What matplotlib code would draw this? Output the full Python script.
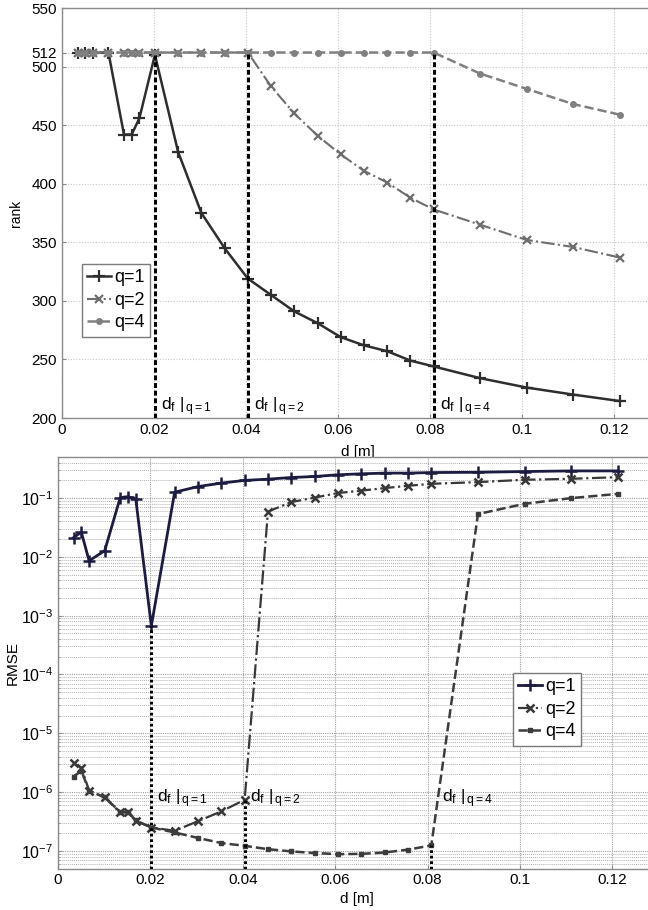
import matplotlib
matplotlib.use("Agg")
import matplotlib.pyplot as plt
import numpy as np
from matplotlib.ticker import FixedLocator, NullFormatter, LogFormatterSciNotation

plt.rcParams['font.family'] = ['Liberation Sans', 'DejaVu Sans']
plt.rcParams['mathtext.fontset'] = 'custom'
plt.rcParams['mathtext.rm'] = 'Liberation Sans'
plt.rcParams['mathtext.it'] = 'Liberation Sans'
plt.rcParams['mathtext.default'] = 'regular'

# ---- data ----
d = [0.00337, 0.00505, 0.00673, 0.0101, 0.01347, 0.01515, 0.01683, 0.0202,
     0.02525, 0.0303, 0.03535, 0.0404, 0.04545, 0.0505, 0.05555, 0.0606,
     0.06565, 0.0707, 0.07575, 0.0808, 0.0909, 0.101, 0.1111, 0.1212]

rank_q1 = [512, 512, 512, 512, 442, 442, 456, 510, 427, 375, 345, 319,
           305, 291, 281, 269, 262, 257, 249, 244, 234, 226, 220, 214.5]
rank_q2 = [512, 512, 512, 512, 512, 512, 512, 512, 512, 512, 512, 512,
           483, 460, 441, 425, 411, 401, 388, 378, 365, 352, 346, 337]
rank_q4 = [512, 512, 512, 512, 512, 512, 512, 512, 512, 512, 512, 512,
           512, 512, 512, 512, 512, 512, 512, 512, 494, 481, 468, 459]

rmse_q1 = [0.0213, 0.0264, 0.0086, 0.0127, 0.102, 0.106, 0.097, 6.7e-4,
           0.126, 0.157, 0.18, 0.20, 0.21, 0.224, 0.233, 0.249,
           0.259, 0.266, 0.266, 0.272, 0.275, 0.283, 0.29, 0.29]
rmse_q2 = [3.1e-6, 2.6e-6, 1.06e-6, 8.1e-7, 4.5e-7, 4.5e-7, 3.25e-7, 2.5e-7,
           2.2e-7, 3.2e-7, 4.7e-7, 7.4e-7, 0.059, 0.0855, 0.102, 0.122,
           0.134, 0.148, 0.162, 0.175, 0.187, 0.205, 0.213, 0.227]
rmse_q4 = [1.84e-6, 2.3e-6, 1.06e-6, 8.1e-7, 4.6e-7, 4.6e-7, 3.3e-7, 2.5e-7,
           2.06e-7, 1.66e-7, 1.36e-7, 1.22e-7, 1.07e-7, 9.8e-8, 9.2e-8, 8.8e-8,
           8.9e-8, 9.4e-8, 1.05e-7, 1.24e-7, 0.0535, 0.080, 0.1, 0.118]

d_f = [0.0202, 0.0404, 0.0808]
q_labels = ['q=1', 'q=2', 'q=4']
x_ticks = [0, 0.02, 0.04, 0.06, 0.08, 0.1, 0.12]
x_ticklabels = ['0', '0.02', '0.04', '0.06', '0.08', '0.1', '0.12']
rank_ticks = [200, 250, 300, 350, 400, 450, 500, 512, 550]
rmse_exponents = [-7, -6, -5, -4, -3, -2, -1]

W, H = 648, 910
fig = plt.figure(figsize=(W / 100, H / 100), dpi=100)

spine_c = '#8a8a8a'

def style_axes(ax):
    for s in ax.spines.values():
        s.set_color(spine_c)
        s.set_linewidth(1.0)
    ax.tick_params(direction='in', length=3, color=spine_c, labelsize=11,
                   labelcolor='black', which='both')
    ax.tick_params(which='minor', length=1.5)

# ---- top axes ----
ax1 = fig.add_axes([62 / W, 1 - 418 / H, 0.13 * 4600 / W, 410 / H])
ax1.set_xlim(0, 0.13)
ax1.set_ylim(200, 550)
ax1.set_xticks(x_ticks)
ax1.set_xticklabels(x_ticklabels)
ax1.set_yticks(rank_ticks)
ax1.grid(True, linestyle=(0, (1, 1.5)), color='#c8c8c8', linewidth=0.8)
ax1.set_axisbelow(True)
style_axes(ax1)

c1, c2, c4 = '#2e2e2e', '#6e6e6e', '#808080'
ax1.plot(d, rank_q1, '-', color=c1, lw=1.8, marker='+', ms=8.5, mew=1.6, label=q_labels[0])
ax1.plot(d, rank_q2, '-.', color=c2, lw=1.5, marker='x', ms=5.5, mew=1.6, label=q_labels[1])
ax1.plot(d, rank_q4, '--', color=c4, lw=1.8, marker='o', ms=4, mew=1, label=q_labels[2])

top_series = [rank_q1, rank_q2, rank_q4]
for k, xf in enumerate(d_f):
    yv = top_series[k][d.index(xf)]
    ax1.plot([xf, xf], [200, yv], color='black', lw=2.2, linestyle=(0, (1.6, 0.9)), zorder=3)

for k, xf in enumerate(d_f):
    ax1.text(xf + 0.0014, 206.5, r'd$_{f}$ |$_{\,%s}$' % q_labels[k], fontsize=12.5,
             ha='left', va='baseline')

ax1.set_ylabel('rank', fontsize=10, labelpad=6)
ax1.set_xlabel('d [m]', fontsize=11, labelpad=0)
ax1.xaxis.set_label_coords((358 - 62) / (0.13 * 4600), -(443 - 418) / 410 - 0.005)

leg_kw = dict(loc='upper left', fontsize=13, handlelength=1.3, handletextpad=0.2,
              borderpad=0.3, labelspacing=0.3, fancybox=False, framealpha=1,
              borderaxespad=0)
leg1 = ax1.legend(bbox_to_anchor=(20 / 598, (418 - 264) / 410), **leg_kw)
leg1.get_frame().set_edgecolor('#7a7a7a')
leg1.get_frame().set_linewidth(1.0)

# ---- bottom axes ----
ytop_px, ybot_px = 457.0, 868.6
ax2 = fig.add_axes([58 / W, 1 - ybot_px / H, 0.13 * 4620 / W, (ybot_px - ytop_px) / H])
ax2.set_yscale('log')
ax2.set_xlim(0, 0.13)
ax2.set_ylim(5e-8, 0.5)
ax2.set_xticks(x_ticks)
ax2.set_xticklabels(x_ticklabels)
major_vals = [10.0 ** e for e in rmse_exponents]
minor_vals = [m * 10.0 ** e for e in range(-8, 0) for m in range(2, 10)
              if 5e-8 <= m * 10.0 ** e <= 0.5]
ax2.yaxis.set_major_locator(FixedLocator(major_vals))
ax2.yaxis.set_major_formatter(LogFormatterSciNotation())
ax2.yaxis.set_minor_locator(FixedLocator(minor_vals))
ax2.yaxis.set_minor_formatter(NullFormatter())
ax2.grid(True, which='major', linestyle=(0, (1, 1)), color='#a0a0a0', linewidth=0.8)
ax2.grid(True, which='minor', axis='y', linestyle=(0, (1, 1)), color='#b4b4b4', linewidth=0.7)
ax2.set_axisbelow(True)
style_axes(ax2)
ax2.tick_params(axis='y', labelsize=11.5)

b1, b2, b4 = '#1c1c40', '#383838', '#3c3c3c'
ax2.plot(d, rmse_q1, '-', color=b1, lw=2.0, marker='+', ms=8.5, mew=1.8, label=q_labels[0])
ax2.plot(d, rmse_q2, '-.', color=b2, lw=1.6, marker='x', ms=5.5, mew=1.8, label=q_labels[1])
ax2.plot(d, rmse_q4, '--', color=b4, lw=1.8, marker='s', ms=3.5, mew=1, label=q_labels[2])

bot_series = [rmse_q1, rmse_q2, rmse_q4]
for k, xf in enumerate(d_f):
    yv = bot_series[k][d.index(xf)]
    ax2.plot([xf, xf], [5e-8, yv], color='black', lw=2.2, linestyle=(0, (0.9, 0.9)), zorder=3)

for k, xf in enumerate(d_f):
    ax2.text(xf + 0.0012 + 0.0012 * (k == 2), 6.8e-7, r'd$_{f}$ |$_{\,%s}$' % q_labels[k],
             fontsize=12.5, ha='left', va='baseline')

ax2.set_ylabel('RMSE', fontsize=11, labelpad=1)
ax2.set_xlabel('d [m]', fontsize=11, labelpad=0)
ax2.xaxis.set_label_coords((357 - 58) / (0.13 * 4620), -(897 - ybot_px) / (ybot_px - ytop_px) + 0.012)

leg2 = ax2.legend(bbox_to_anchor=((513 - 58) / 600.6, (ybot_px - 673) / (ybot_px - ytop_px)), **leg_kw)
leg2.get_frame().set_edgecolor('#7a7a7a')
leg2.get_frame().set_linewidth(1.0)

fig.savefig('out.png', dpi=100, facecolor='white')
